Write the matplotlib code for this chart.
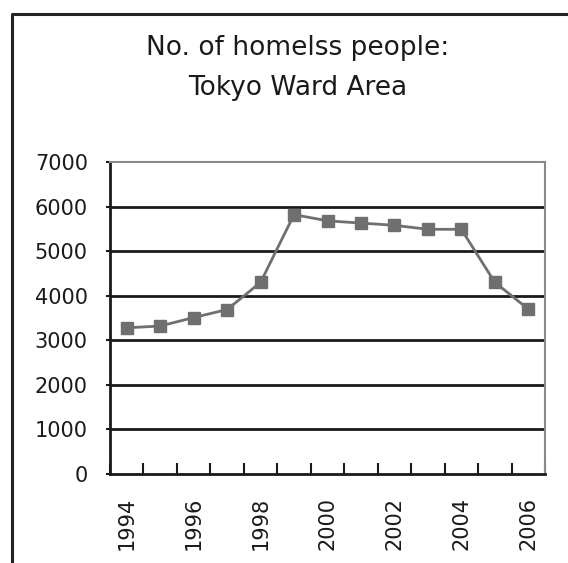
import numpy as np
import matplotlib.pyplot as plt
from matplotlib.lines import Line2D

plt.rcParams['font.family'] = ['DejaVu Sans']

# Data
years = [1994, 1995, 1996, 1997, 1998, 1999, 2000,
         2001, 2002, 2003, 2004, 2005, 2006]
homeless = [3280, 3320, 3510, 3690, 4300, 5820, 5680,
            5630, 5580, 5490, 5490, 4300, 3700]
y_ticks = [0, 1000, 2000, 3000, 4000, 5000, 6000, 7000]

W, H = 568, 563
fig = plt.figure(figsize=(W / 100, H / 100), dpi=100)
ax = fig.add_axes([110 / W, 1 - 474 / H, 435 / W, 312 / H])

x = np.arange(len(years))
ax.plot(x, homeless, color="#6f6f6f", lw=2, marker="s", ms=8,
        mfc="#6f6f6f", mec="#6f6f6f", zorder=3)

# gridlines at each 1000 (black), top border grey
for v in y_ticks[1:-1]:
    ax.axhline(v, color="#1a1a1a", lw=2, zorder=1)

ax.set_ylim(0, 7000)
ax.set_xlim(-0.5, len(years) - 0.5)
ax.set_yticks(y_ticks)
ax.set_yticklabels([str(v) for v in y_ticks], fontsize=15)
ax.tick_params(axis="y", direction="out", length=3, width=1.5,
               pad=13, colors="#1a1a1a")

# category ticks between points (Excel style), labels every other year
ax.set_xticks(np.arange(-0.5, len(years), 1.0), minor=True)
ax.set_xticks(x[::2])
ax.set_xticklabels([str(y) for y in years[::2]], rotation=90, fontsize=15)
ax.tick_params(axis="x", which="major", length=0, pad=16.5,
               colors="#1a1a1a")
ax.tick_params(axis="x", which="minor", direction="in", length=8,
               width=1.5, color="#1a1a1a")

ax.spines["left"].set_color("#1a1a1a")
ax.spines["left"].set_linewidth(2)
ax.spines["bottom"].set_color("#1a1a1a")
ax.spines["bottom"].set_linewidth(2)
ax.spines["top"].set_color("#8a8a8a")
ax.spines["top"].set_linewidth(1.5)
ax.spines["right"].set_color("#8a8a8a")
ax.spines["right"].set_linewidth(1.5)

# title
fig.text(298 / W, 1 - 48 / H, "No. of homelss people:", ha="center",
         va="center", fontsize=19, color="#1a1a1a")
fig.text(298 / W, 1 - 88 / H, "Tokyo Ward Area", ha="center",
         va="center", fontsize=19, color="#1a1a1a")

# outer frame (cut off at right and bottom)
fig.add_artist(Line2D([12 / W, 12 / W, 1.0], [0.0, 1 - 14 / H, 1 - 14 / H],
                      transform=fig.transFigure, color="#222222", lw=2.2))

fig.savefig("out.png", dpi=100)
